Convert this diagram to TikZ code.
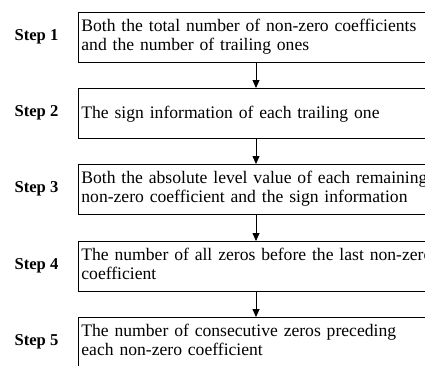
\documentclass[tikz,border=0pt]{standalone}
\usepackage{fontspec}
\setmainfont{Liberation Serif}
\usetikzlibrary{arrows.meta}
\begin{document}
\begin{tikzpicture}[x=1pt,y=-1pt,
  stepbox/.style={draw=black,line width=0.8pt,anchor=north west,
    text width=380pt,inner xsep=3.5pt,inner ysep=0pt,align=left,
    text height=19pt,text depth=31pt,
    font=\fontsize{17.6}{19}\selectfont},
  onebox/.style={stepbox,text height=30pt,text depth=20pt},
  steplabel/.style={font=\fontsize{16.6}{17}\selectfont\bfseries,inner sep=0pt},
  flow/.style={line width=0.8pt,-{Triangle[width=7pt,length=8pt]}}]
\useasboundingbox (0,0) rectangle (425,365);
\clip (0,0) rectangle (425,365);
\node[stepbox] (b1) at (77.5,12) {Both the total number of non-zero coefficients\\and the number of trailing ones};
\node[onebox] (b2) at (77.5,88) {The sign information of each trailing one};
\node[stepbox] (b3) at (77.5,164) {Both the absolute level value of each remaining\\non-zero coefficient and the sign information};
\node[stepbox] (b4) at (77.5,241) {The number of all zeros before the last non-zero\\coefficient};
\node[stepbox] (b5) at (77.5,317) {The number of consecutive zeros preceding\\each non-zero coefficient};
\node[steplabel] (s1) at (36.5,37) {Step 1};
\node[steplabel] (s2) at (36.5,113) {Step 2};
\node[steplabel] (s3) at (36.5,189) {Step 3};
\node[steplabel] (s4) at (36.5,266) {Step 4};
\node[steplabel] (s5) at (36.5,342) {Step 5};
\coordinate (ax) at (256,0);
\draw[flow] (b1.south -| ax) -- (b2.north -| ax);
\draw[flow] (b2.south -| ax) -- (b3.north -| ax);
\draw[flow] (b3.south -| ax) -- (b4.north -| ax);
\draw[flow] (b4.south -| ax) -- (b5.north -| ax);
\end{tikzpicture}
\end{document}
